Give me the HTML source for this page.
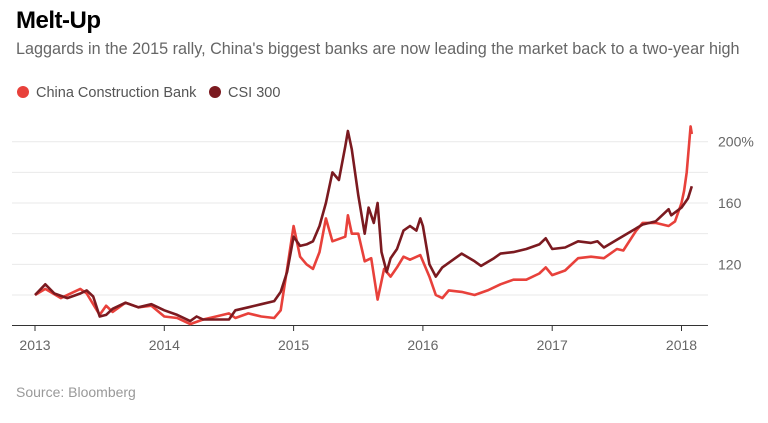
<!DOCTYPE html>
<html><head><meta charset="utf-8"><style>
body{margin:0;background:#fff;width:768px;height:423px;overflow:hidden;font-family:"Liberation Sans",sans-serif;}
.t{position:absolute;left:16px;top:7px;font-size:24px;font-weight:bold;color:#000;letter-spacing:-0.5px}
.s{position:absolute;left:16px;top:40px;font-size:16.2px;color:#666;}
.lg{position:absolute;top:85px;font-size:14.5px;color:#555;}
.dot{display:inline-block;width:12px;height:12px;border-radius:50%;vertical-align:-1px;margin-right:7px}
.src{position:absolute;left:16px;top:384px;font-size:14px;color:#999}
</style></head><body>
<div class="t">Melt-Up</div>
<div class="s">Laggards in the 2015 rally, China's biggest banks are now leading the market back to a two-year high</div>
<div class="lg" style="left:17px"><span class="dot" style="background:#e8413b"></span>China Construction Bank</div>
<div class="lg" style="left:209px"><span class="dot" style="background:#7b1a20"></span>CSI 300</div>
<svg id="c" width="768" height="423" style="position:absolute;left:0;top:0"></svg>
<div class="src">Source: Bloomberg</div>
<script>
const yTicks=[100,120,140,160,180,200];
const yLabels=["","120","","160","","200%"];
const xYears=[2013,2014,2015,2016,2017,2018];
const csiT=[2013.0,2013.08,2013.15,2013.25,2013.35,2013.4,2013.45,2013.5,2013.55,2013.6,2013.7,2013.8,2013.9,2014.0,2014.1,2014.2,2014.25,2014.3,2014.4,2014.5,2014.55,2014.65,2014.75,2014.85,2014.9,2014.95,2015.0,2015.05,2015.1,2015.15,2015.2,2015.25,2015.3,2015.35,2015.4,2015.42,2015.45,2015.5,2015.55,2015.58,2015.62,2015.65,2015.68,2015.72,2015.75,2015.8,2015.85,2015.9,2015.95,2015.98,2016.0,2016.05,2016.1,2016.15,2016.25,2016.3,2016.4,2016.45,2016.55,2016.6,2016.7,2016.8,2016.9,2016.95,2017.0,2017.1,2017.2,2017.3,2017.35,2017.4,2017.5,2017.6,2017.7,2017.8,2017.9,2017.92,2018.0,2018.05,2018.08];
const csiV=[100,107,101,98,101,103,99,86,87,91,95,92,94,90,87,83,86,84,84,84,90,92,94,96,102,115,138,132,133,135,145,160,180,175,197,207,195,165,140,157,147,160,128,115,124,130,142,145,142,150,145,120,112,118,124,127,122,119,124,127,128,130,133,137,130,131,135,134,135,131,136,141,146,148,156,152,157,163,171];
const ccbT=[2013.0,2013.08,2013.2,2013.35,2013.4,2013.5,2013.55,2013.6,2013.7,2013.8,2013.9,2014.0,2014.1,2014.2,2014.3,2014.4,2014.5,2014.55,2014.65,2014.75,2014.85,2014.9,2014.95,2015.0,2015.05,2015.1,2015.15,2015.2,2015.25,2015.3,2015.4,2015.42,2015.45,2015.5,2015.55,2015.6,2015.65,2015.7,2015.75,2015.8,2015.85,2015.9,2015.98,2016.05,2016.1,2016.15,2016.2,2016.3,2016.4,2016.5,2016.6,2016.7,2016.8,2016.9,2016.95,2017.0,2017.1,2017.2,2017.3,2017.4,2017.5,2017.55,2017.65,2017.7,2017.8,2017.9,2017.95,2018.0,2018.02,2018.04,2018.06,2018.07,2018.08];
const ccbV=[100,104,98,104,101,87,93,89,95,92,93,86,85,81,84,86,88,85,88,86,85,90,117,145,125,120,117,128,150,135,138,152,140,140,122,124,97,117,112,118,125,123,126,112,100,98,103,102,100,103,107,110,110,114,118,113,116,124,125,124,130,129,142,147,147,145,148,160,168,180,200,210,205];
const X=t=>35+(t-2013)*129.3;
const Y=v=>295-(v-100)*1.533;
const svg=document.getElementById('c');const NS='http://www.w3.org/2000/svg';
function mk(tag,a){const e=document.createElementNS(NS,tag);for(const k in a)e.setAttribute(k,a[k]);svg.appendChild(e);return e;}
yTicks.forEach((v,i)=>{
 const l=mk('line',{x1:12,x2:708,y1:Y(v),y2:Y(v),stroke:'#e9e9e9','stroke-width':1});
 
 
 if(yLabels[i]){const t=mk('text',{x:718,y:Y(v)+5,'font-size':14,fill:'#666','font-family':'Liberation Sans, sans-serif'});t.textContent=yLabels[i];
 
 }
});
const ax=mk('line',{x1:12,x2:708,y1:325.5,y2:325.5,stroke:'#333','stroke-width':1});


xYears.forEach(y=>{
 const tk=mk('line',{x1:X(y),x2:X(y),y1:325,y2:331,stroke:'#333','stroke-width':1});
 
 
 const t=mk('text',{x:X(y),y:350,'font-size':14,fill:'#666','text-anchor':'middle','font-family':'Liberation Sans, sans-serif'});t.textContent=y;
 
 
});
function line(T,V,col,name){
 const d=T.map((t,i)=>(i?'L':'M')+X(t).toFixed(1)+','+Y(V[i]).toFixed(1)).join('');
 const p=mk('path',{d:d,fill:'none',stroke:col,'stroke-width':2.6,'stroke-linejoin':'round'});
 
 
}
line(ccbT,ccbV,'#e8413b','ccb-line');
line(csiT,csiV,'#7b1a20','csi300-line');
</script>
</body></html>
